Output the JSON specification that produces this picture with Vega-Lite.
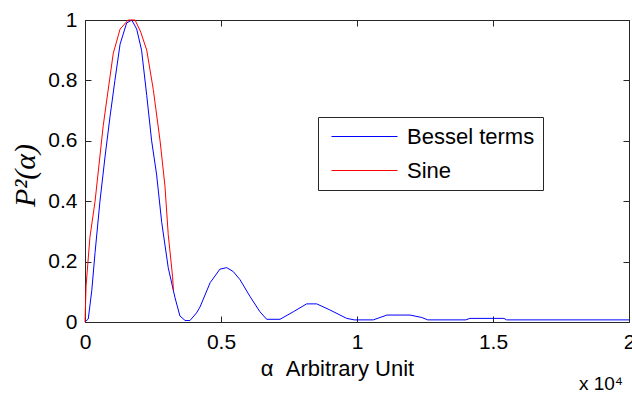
{
  "$schema": "https://vega.github.io/schema/vega-lite/v6.json",
  "width": 544,
  "height": 302,
  "autosize": "none",
  "padding": {"left": 85, "top": 20, "right": 3, "bottom": 72},
  "background": "white",
  "config": {
    "font": "Liberation Sans",
    "view": {"stroke": "#262626", "strokeWidth": 1},
    "axis": {"domain": false, "grid": false, "tickSize": 6, "offset": -6, "tickColor": "#262626", "tickWidth": 1, "labelColor": "#000000", "labelFontSize": 21, "labelFont": "Liberation Sans", "titleFontWeight": "normal", "titleColor": "#000000"}
  },
  "title": {"text": "x 10⁴", "orient": "bottom", "anchor": "end", "frame": "group", "fontSize": 19, "fontWeight": "normal", "font": "Liberation Sans", "color": "#000000", "offset": -4, "dx": -6},
  "datasets": {
    "curves": [
      {"alpha": 0, "P2": 0, "series": "Bessel terms"},
      {"alpha": 120, "P2": 0.01, "series": "Bessel terms"},
      {"alpha": 250, "P2": 0.105, "series": "Bessel terms"},
      {"alpha": 370, "P2": 0.23, "series": "Bessel terms"},
      {"alpha": 550, "P2": 0.40, "series": "Bessel terms"},
      {"alpha": 740, "P2": 0.55, "series": "Bessel terms"},
      {"alpha": 920, "P2": 0.68, "series": "Bessel terms"},
      {"alpha": 1100, "P2": 0.80, "series": "Bessel terms"},
      {"alpha": 1290, "P2": 0.92, "series": "Bessel terms"},
      {"alpha": 1530, "P2": 0.99, "series": "Bessel terms"},
      {"alpha": 1720, "P2": 1.0, "series": "Bessel terms"},
      {"alpha": 1900, "P2": 0.97, "series": "Bessel terms"},
      {"alpha": 2080, "P2": 0.90, "series": "Bessel terms"},
      {"alpha": 2270, "P2": 0.75, "series": "Bessel terms"},
      {"alpha": 2450, "P2": 0.60, "series": "Bessel terms"},
      {"alpha": 2630, "P2": 0.49, "series": "Bessel terms"},
      {"alpha": 2820, "P2": 0.33, "series": "Bessel terms"},
      {"alpha": 3060, "P2": 0.18, "series": "Bessel terms"},
      {"alpha": 3310, "P2": 0.08, "series": "Bessel terms"},
      {"alpha": 3490, "P2": 0.02, "series": "Bessel terms"},
      {"alpha": 3680, "P2": 0.005, "series": "Bessel terms"},
      {"alpha": 3860, "P2": 0.005, "series": "Bessel terms"},
      {"alpha": 4100, "P2": 0.03, "series": "Bessel terms"},
      {"alpha": 4230, "P2": 0.05, "series": "Bessel terms"},
      {"alpha": 4600, "P2": 0.13, "series": "Bessel terms"},
      {"alpha": 4960, "P2": 0.175, "series": "Bessel terms"},
      {"alpha": 5210, "P2": 0.18, "series": "Bessel terms"},
      {"alpha": 5450, "P2": 0.167, "series": "Bessel terms"},
      {"alpha": 5700, "P2": 0.14, "series": "Bessel terms"},
      {"alpha": 6070, "P2": 0.084, "series": "Bessel terms"},
      {"alpha": 6430, "P2": 0.034, "series": "Bessel terms"},
      {"alpha": 6680, "P2": 0.009, "series": "Bessel terms"},
      {"alpha": 7170, "P2": 0.009, "series": "Bessel terms"},
      {"alpha": 7660, "P2": 0.034, "series": "Bessel terms"},
      {"alpha": 8150, "P2": 0.06, "series": "Bessel terms"},
      {"alpha": 8520, "P2": 0.06, "series": "Bessel terms"},
      {"alpha": 9000, "P2": 0.04, "series": "Bessel terms"},
      {"alpha": 9620, "P2": 0.012, "series": "Bessel terms"},
      {"alpha": 9900, "P2": 0.007, "series": "Bessel terms"},
      {"alpha": 10600, "P2": 0.007, "series": "Bessel terms"},
      {"alpha": 11100, "P2": 0.023, "series": "Bessel terms"},
      {"alpha": 11950, "P2": 0.023, "series": "Bessel terms"},
      {"alpha": 12380, "P2": 0.015, "series": "Bessel terms"},
      {"alpha": 12600, "P2": 0.007, "series": "Bessel terms"},
      {"alpha": 14000, "P2": 0.007, "series": "Bessel terms"},
      {"alpha": 14150, "P2": 0.012, "series": "Bessel terms"},
      {"alpha": 15400, "P2": 0.012, "series": "Bessel terms"},
      {"alpha": 15500, "P2": 0.007, "series": "Bessel terms"},
      {"alpha": 20000, "P2": 0.007, "series": "Bessel terms"},
      {"alpha": 0, "P2": 0, "series": "Sine"},
      {"alpha": 40, "P2": 0.12, "series": "Sine"},
      {"alpha": 180, "P2": 0.28, "series": "Sine"},
      {"alpha": 370, "P2": 0.40, "series": "Sine"},
      {"alpha": 490, "P2": 0.50, "series": "Sine"},
      {"alpha": 670, "P2": 0.65, "series": "Sine"},
      {"alpha": 800, "P2": 0.735, "series": "Sine"},
      {"alpha": 1040, "P2": 0.89, "series": "Sine"},
      {"alpha": 1290, "P2": 0.97, "series": "Sine"},
      {"alpha": 1590, "P2": 1.0, "series": "Sine"},
      {"alpha": 1840, "P2": 1.0, "series": "Sine"},
      {"alpha": 2050, "P2": 0.96, "series": "Sine"},
      {"alpha": 2270, "P2": 0.90, "series": "Sine"},
      {"alpha": 2510, "P2": 0.77, "series": "Sine"},
      {"alpha": 2760, "P2": 0.60, "series": "Sine"},
      {"alpha": 2940, "P2": 0.45, "series": "Sine"},
      {"alpha": 3060, "P2": 0.29, "series": "Sine"},
      {"alpha": 3220, "P2": 0.15, "series": "Sine"},
      {"alpha": 3250, "P2": 0.105, "series": "Sine"}
    ]
  },
  "layer": [
    {
      "data": {"name": "curves"},
      "mark": {"type": "line", "strokeWidth": 1},
      "encoding": {
        "x": {"field": "alpha", "type": "quantitative",
          "scale": {"domain": [0, 20000], "nice": false, "zero": false},
          "axis": {"orient": "bottom", "values": [0, 5000, 10000, 15000, 20000], "labelExpr": "'' + datum.value / 10000", "labelFlush": false, "labelPadding": 9,
            "title": "α\u00a0\u00a0Arbitrary Unit", "titleFontSize": 22, "titleX": 252, "titleY": 59, "titleAlign": "center", "titleBaseline": "alphabetic"}},
        "y": {"field": "P2", "type": "quantitative",
          "scale": {"domain": [0, 1], "nice": false},
          "axis": {"orient": "left", "values": [0, 0.2, 0.4, 0.6, 0.8, 1], "labelExpr": "'' + datum.value", "labelFlush": false, "labelPadding": 8,
            "title": "P²(α)", "titleFont": "Liberation Serif", "titleFontStyle": "italic", "titleFontSize": 30, "titleAngle": 270, "titleX": -66, "titleY": 155, "titleAlign": "center", "titleBaseline": "middle"}},
        "color": {"field": "series", "type": "nominal",
          "scale": {"domain": ["Bessel terms", "Sine"], "range": ["#0000ff", "#ff0000"]},
          "legend": {"title": null, "orient": "none", "legendX": 233, "legendY": 97, "direction": "vertical", "fillColor": "white", "strokeColor": "#262626", "padding": 8, "symbolType": "M-3,0H3", "symbolSize": 484, "symbolStrokeWidth": 1, "symbolOffset": 27, "labelOffset": 31, "labelFontSize": 22, "labelFont": "Liberation Sans", "labelColor": "#000000", "rowPadding": 11, "cornerRadius": 0, "labelLimit": 300}}
      }
    },
    {
      "data": {"name": "curves"},
      "mark": {"type": "point", "opacity": 0},
      "encoding": {
        "x": {"field": "alpha", "type": "quantitative",
          "axis": {"orient": "top", "values": [0, 5000, 10000, 15000, 20000], "labels": false, "title": null}},
        "y": {"field": "P2", "type": "quantitative",
          "axis": {"orient": "right", "values": [0, 0.2, 0.4, 0.6, 0.8, 1], "labels": false, "title": null}}
      }
    }
  ]
}
